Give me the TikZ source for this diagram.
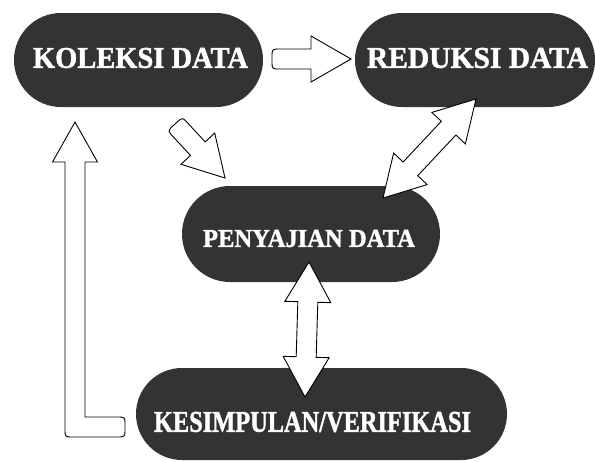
\documentclass[tikz,border=0pt]{standalone}
\usepackage{fontspec}
\setmainfont{Liberation Serif}[BoldFeatures={FakeBold=1.5}]
\usetikzlibrary{calc}
\definecolor{pillgray}{HTML}{333333}
\tikzset{
  pill/.style={rectangle, fill=pillgray, draw=none, inner sep=0pt},
  pilltext/.style={inner sep=0pt, text=white, font=\bfseries},
  arrowbox/.style={draw=black, fill=white, line width=0.9pt, line join=miter},
}
\newcommand\ArrGeom[2]{%
  \coordinate (hb) at ($(#2)!40pt!(#1)$);
  \coordinate (hL) at ($(hb)!23pt!90:(#2)$);
  \coordinate (hR) at ($(hb)!23pt!-90:(#2)$);
  \coordinate (sL) at ($(hb)!10pt!90:(#2)$);
  \coordinate (sR) at ($(hb)!10pt!-90:(#2)$);
}
\newcommand\SingleArrow[2]{%
  \ArrGeom{#1}{#2}
  \coordinate (tL) at ($(#1)!10pt!90:(#2)$);
  \coordinate (tR) at ($(#1)!10pt!-90:(#2)$);
  \coordinate (tLp) at ($(#1)!2pt!90:(#2)$);
  \coordinate (tRp) at ($(#1)!2pt!-90:(#2)$);
  \coordinate (ta) at ($(#1)!8pt!(#2)$);
  \coordinate (tLq) at ($(ta)!10pt!90:(#2)$);
  \coordinate (tRq) at ($(ta)!10pt!-90:(#2)$);
  \draw[arrowbox] (tLp) .. controls (tL) .. (tLq) -- (sL) -- (hL) -- (#2) -- (hR) -- (sR) -- (tRq) .. controls (tR) .. (tRp) -- cycle;
}
\newcommand\DoubleArrow[2]{%
  \ArrGeom{#1}{#2}
  \coordinate (tb) at ($(#1)!40pt!(#2)$);
  \coordinate (tbL) at ($(tb)!23pt!90:(#2)$);
  \coordinate (tbR) at ($(tb)!23pt!-90:(#2)$);
  \coordinate (tsL) at ($(tb)!10pt!90:(#2)$);
  \coordinate (tsR) at ($(tb)!10pt!-90:(#2)$);
  \draw[arrowbox] (#1) -- (tbL) -- (tsL) -- (sL) -- (hL) -- (#2) -- (hR) -- (sR) -- (tsR) -- (tbR) -- cycle;
}
\begin{document}
\begin{tikzpicture}[x=1pt, y=-1pt]
\useasboundingbox[fill=white] (0,0) rectangle (595,461);
% pills
\node[pill, minimum width=249pt, minimum height=94pt, rounded corners=47pt] (kol) at (138.5,60) {};
\node[pill, minimum width=240pt, minimum height=94pt, rounded corners=47pt] (red) at (475,60) {};
\node[pill, minimum width=258pt, minimum height=96pt, rounded corners=48pt] (pen) at (311,234) {};
\node[pill, minimum width=371pt, minimum height=92pt, rounded corners=46pt] (kes) at (321.5,414) {};
% texts
\node[pilltext] (kolT) at (140.5,58) {\resizebox{215pt}{20pt}{KOLEKSI DATA}};
\node[pilltext] (redT) at (477.5,58) {\resizebox{221pt}{20pt}{REDUKSI DATA}};
\node[pilltext] (penT) at (309,238.5) {\resizebox{212pt}{17pt}{PENYAJIAN DATA}};
\node[pilltext] (kesT) at (312.5,422) {\resizebox{317pt}{20pt}{KESIMPULAN\smash{/}VERIFIKASI}};
% arrow end points
\coordinate (a1s) at (272,59);
\coordinate (a1e) at (351,59);
\coordinate (a2s) at (175,124);
\coordinate (a2e) at (225,178);
\coordinate (a3s) at (383,198);
\coordinate (a3e) at (476,99);
\coordinate (a4s) at (305,397);
\coordinate (a4e) at (309,262);
\SingleArrow{a1s}{a1e}
\SingleArrow{a2s}{a2e}
\DoubleArrow{a3s}{a3e}
\DoubleArrow{a4s}{a4e}
% L-shaped return arrow
\coordinate (lTip) at (75,122);
\draw[arrowbox] (lTip) -- (97.5,162) -- (85,162) -- (85,417) -- (117,417)
  .. controls (125,417) .. (125,425) -- (125,429) .. controls (125,437) .. (117,437)
  -- (73,437) .. controls (65,437) .. (65,429) -- (65,162) -- (52.5,162) -- cycle;
\end{tikzpicture}
\end{document}
